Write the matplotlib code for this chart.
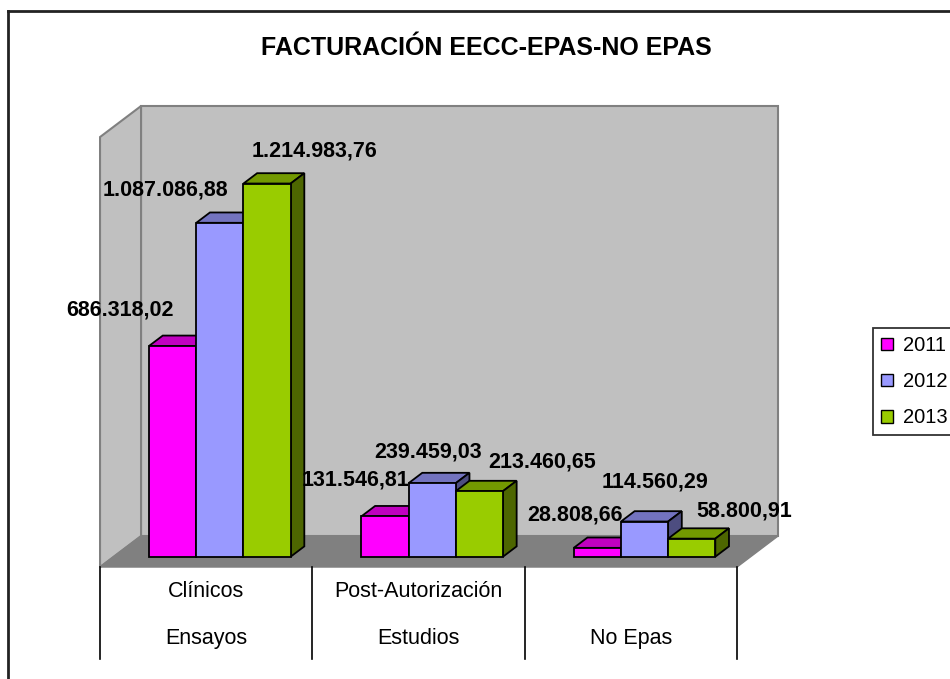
import matplotlib
matplotlib.use("Agg")
import matplotlib.pyplot as plt
from matplotlib.patches import Polygon
from matplotlib.lines import Line2D

plt.rcParams['font.family'] = ['Liberation Sans', 'DejaVu Sans']

# data
series = ['2011', '2012', '2013']
row1 = ['Clínicos', 'Post-Autorización', '']
row2 = ['Ensayos', 'Estudios', 'No Epas']
v2011 = [686318.02, 131546.81, 28808.66]
v2012 = [1087086.88, 239459.03, 114560.29]
v2013 = [1214983.76, 213460.65, 58800.91]
values = [v2011, v2012, v2013]
labels2011 = ['686.318,02', '131.546,81', '28.808,66']
labels2012 = ['1.087.086,88', '239.459,03', '114.560,29']
labels2013 = ['1.214.983,76', '213.460,65', '58.800,91']
labels = [labels2011, labels2012, labels2013]

# where Excel put the value labels (pixels from bar top centre)
lab_off = [[(-53, 36), (-30, 36), (-22, 33)],
           [(-54, 33), (-4, 31), (10, 40)],
           [(47, 33), (63, 29), (52, 28)]]

face = ['#FF00FF', '#9999FF', '#99CC00']
topc = ['#C000C0', '#7373BF', '#739900']
sidec = ['#800080', '#4D4D80', '#4D6600']

W, H = 950, 679
ymax = 1400000
ncat = 3

fig = plt.figure(figsize=(W / 100, H / 100), dpi=100)
# axes = front plane of the bars
x0, x1 = 113.7, 750.7
yb, yt = 556.7, 126.7
ax = fig.add_axes([x0 / W, 1 - yb / H, (x1 - x0) / W, (yb - yt) / H])
ax.set_xlim(0, ncat)
ax.set_ylim(0, ymax)
ax.axis('off')

sx = ncat / (x1 - x0)   # data per pixel
sy = ymax / (yb - yt)
DX, DY = 41, 31         # depth of the box in pixels


def p(x, y, k):
    return (x + k * DX * sx, y + k * DY * sy)


wall = '#C0C0C0'
edge = '#808080'
# back wall, left wall, floor
ax.add_patch(Polygon([p(0, 0, 2/3), p(ncat, 0, 2/3), p(ncat, ymax, 2/3), p(0, ymax, 2/3)],
                     fc=wall, ec=edge, lw=1.5, clip_on=False, zorder=0))
ax.add_patch(Polygon([p(0, 0, -1/3), p(0, 0, 2/3), p(0, ymax, 2/3), p(0, ymax, -1/3)],
                     fc=wall, ec=edge, lw=1.5, clip_on=False, zorder=0))
ax.add_patch(Polygon([p(0, 0, -1/3), p(ncat, 0, -1/3), p(ncat, 0, 2/3), p(0, 0, 2/3)],
                     fc='#808080', ec='#808080', lw=1, clip_on=False, zorder=1))

# bars
bw = 1 / 4.5
for i, vals in enumerate(values):
    xs = [c + 0.5 + (i - 1) * bw for c in range(ncat)]
    ax.bar(xs, vals, width=bw, color=face[i], edgecolor='black', lw=1.3,
           zorder=4 + 3 * i, label=series[i], clip_on=False)
    for x, v in zip(xs, vals):
        l, r = x - bw / 2, x + bw / 2
        ax.add_patch(Polygon([p(l, v, 0), p(r, v, 0), p(r, v, 1/3), p(l, v, 1/3)],
                             fc=topc[i], ec='black', lw=1.3, zorder=3 + 3 * i,
                             clip_on=False))
        ax.add_patch(Polygon([p(r, 0, 0), p(r, v, 0), p(r, v, 1/3), p(r, 0, 1/3)],
                             fc=sidec[i], ec='black', lw=1.3, zorder=3 + 3 * i,
                             clip_on=False))
    for c in range(ncat):
        ax.annotate(labels[i][c], xy=(xs[c], vals[c]), xytext=lab_off[i][c],
                    textcoords='offset pixels', ha='center', va='center',
                    fontsize=15.5, fontweight='bold', zorder=20,
                    annotation_clip=False)

# category table under the floor
fx, fy = p(0, 0, -1/3)
tab_h = 92 * sy
for c in range(ncat + 1):
    ax.plot([p(c, 0, -1/3)[0]] * 2, [fy, fy - tab_h], color='black', lw=1.2,
            clip_on=False, zorder=2)
for c in range(ncat):
    cx = p(c + 0.5, 0, -1/3)[0]
    ax.text(cx, fy - 24 * sy, row1[c], ha='center', va='center', fontsize=15.5)
    ax.text(cx, fy - 71 * sy, row2[c], ha='center', va='center', fontsize=15.5)

# title
fig.text(486 / W, 1 - 48 / H, 'FACTURACIÓN EECC-EPAS-NO EPAS', ha='center',
         va='center', fontsize=18, fontweight='bold')

# legend
leg = ax.legend(loc='upper left', bbox_to_anchor=(873 / W, 1 - 328 / H),
                bbox_transform=fig.transFigure, borderaxespad=0, fontsize=14.5,
                handlelength=0.6, handleheight=0.6, handletextpad=0.5,
                labelspacing=0.85, fancybox=False, frameon=True)
leg.get_frame().set_edgecolor('black')
leg.get_frame().set_linewidth(1.3)
for h in leg.legend_handles:
    h.set_linewidth(1)

# outer chart border (only left and top are in view)
fig.add_artist(Line2D([7.5 / W, 7.5 / W], [0, 1 - 10.5 / H], color='#222222', lw=2))
fig.add_artist(Line2D([7.5 / W, 1], [1 - 10.5 / H, 1 - 10.5 / H], color='#222222', lw=2))

fig.savefig('out.png', dpi=100)
